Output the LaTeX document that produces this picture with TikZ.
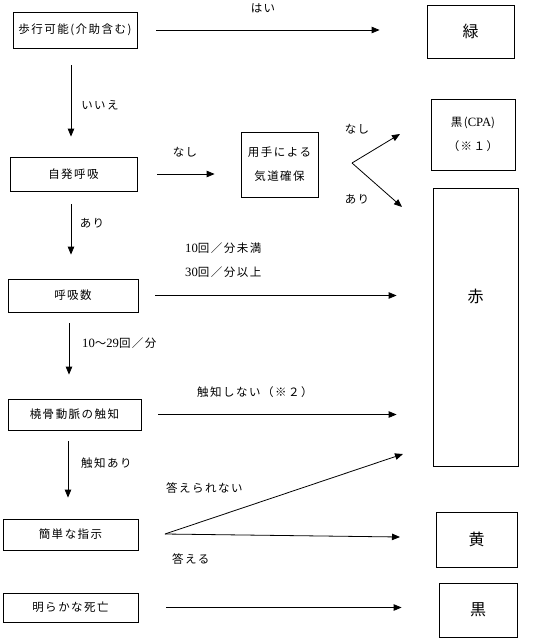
\documentclass[tikz,border=0pt]{standalone}
\usepackage{fontspec}
\setmainfont{Noto Sans CJK JP}[LetterSpace=13]
\newfontfamily\latin{Liberation Serif}[Scale=1.1]
\usepackage{tikz}
\usetikzlibrary{arrows.meta}
\tikzset{every node/.append style={font=\fontsize{11.5}{24}\selectfont,inner sep=0pt}}
\tikzset{box/.style={draw,line width=.8pt,align=center},
  big/.style={font=\fontsize{16}{18}\selectfont},
  arr/.style={-{Triangle[length=8pt,width=6.5pt]},line width=.8pt}}

\begin{document}
\begin{tikzpicture}[x=1pt,y=-1pt]
\useasboundingbox (0,0) rectangle (541,641);
\node[box,minimum width=124pt,minimum height=36pt] (walk) at (75,30) {歩行可能(介助含む)};
\node[box,big,minimum width=87pt,minimum height=53pt] (green) at (470.5,31.5) {緑};
\node[box,minimum width=84pt,minimum height=71pt] (cpa) at (473,134.5) {黒({\latin CPA})\\（※１）};
\node[box,minimum width=127pt,minimum height=34pt] (spont) at (73.5,174) {自発呼吸};
\node[box,minimum width=77pt,minimum height=65pt] (airway) at (279.5,164.5) {用手による\\気道確保};
\node[box,minimum width=85pt,minimum height=278pt] (red) at (475.5,327) {};
\node[big] (redtxt) at (475.5,296) {赤};
\node[box,minimum width=130pt,minimum height=33pt] (rate) at (73,295.5) {呼吸数};
\node[box,minimum width=133pt,minimum height=31pt] (pulse) at (74.5,414.5) {橈骨動脈の触知};
\node[box,minimum width=135pt,minimum height=31pt] (order) at (70.5,534.5) {簡単な指示};
\node[box,big,minimum width=81pt,minimum height=55pt] (yellow) at (476.5,539.5) {黄};
\node[box,minimum width=135pt,minimum height=29pt] (dead) at (70.5,607.5) {明らかな死亡};
\node[box,big,minimum width=78pt,minimum height=54pt] (black) at (478,610) {黒};
\coordinate (fork1) at (352,163);
\coordinate (cpatip) at (400,134);
\coordinate (redtip) at (402,207);
\coordinate (fork2) at (165,534);
\coordinate (pulsetip) at (403,454);
\coordinate (yellowtip) at (400,537);
\draw[arr,shorten <=19pt,shorten >=47pt] (walk.east) -- (walk.east -| green.west);
\draw[arr,shorten <=17pt,shorten >=20pt] ([xshift=-4pt]walk.south) -- ([xshift=-4pt]walk.south |- spont.north);
\draw[arr,shorten <=20pt,shorten >=26pt] (spont.east) -- (spont.east -| airway.west);
\draw[arr] (fork1) -- (cpatip);
\draw[arr] (fork1) -- (redtip);
\draw[arr,shorten <=13pt,shorten >=24pt] ([xshift=-2.5pt]spont.south) -- ([xshift=-2.5pt]spont.south |- rate.north);
\draw[arr,shorten <=17pt,shorten >=36pt] (rate.east) -- (rate.east -| red.west);
\draw[arr,shorten <=11pt,shorten >=24pt] ([xshift=-4pt]rate.south) -- ([xshift=-4pt]rate.south |- pulse.north);
\draw[arr,shorten <=17pt,shorten >=36pt] (pulse.east) -- (pulse.east -| red.west);
\draw[arr,shorten <=11pt,shorten >=21pt] ([xshift=-6.5pt]pulse.south) -- ([xshift=-6.5pt]pulse.south |- order.north);
\draw[arr] (fork2) -- (pulsetip);
\draw[arr] (fork2) -- (yellowtip);
\draw[arr,shorten <=28pt,shorten >=37pt] (dead.east) -- (dead.east -| black.west);
\node (yes) at (263,8) {はい};
\node (no) at (100,105) {いいえ};
\node (nobreath) at (185,152) {なし};
\node (nobreath2) at (357,129) {なし};
\node (breath2) at (357,199) {あり};
\node (breath) at (92,223) {あり};
\node[anchor=west] (slow) at (185,248) {{\latin 10}回／分未満};
\node[anchor=west] (fast) at (185,272) {{\latin 30}回／分以上};
\node[anchor=west] (normal) at (82,343) {{\latin 10}〜{\latin 29}回／分};
\node[anchor=west] (nopulse) at (197,392) {触知しない（※２）};
\node[anchor=west] (haspulse) at (81,463) {触知あり};
\node[anchor=west] (cannot) at (166,488) {答えられない};
\node[anchor=west] (can) at (172,559) {答える};
\end{tikzpicture}
\end{document}
